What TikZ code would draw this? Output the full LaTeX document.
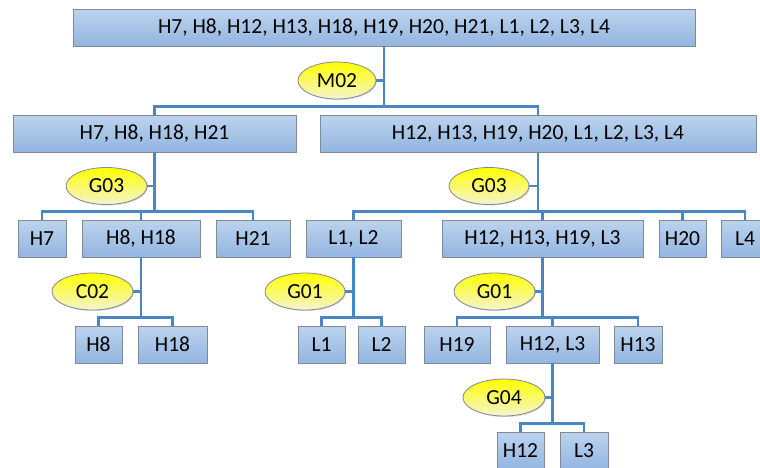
\documentclass[tikz,border=0pt]{standalone}
\usepackage{fontspec}
\setmainfont{Carlito}
\usetikzlibrary{shapes.geometric,shadows}
\definecolor{boxtop}{HTML}{BCD3EE}
\definecolor{boxbot}{HTML}{93B5E0}
\definecolor{boxline}{HTML}{7F8A96}
\definecolor{conncol}{HTML}{4A86C3}
\definecolor{elltop}{HTML}{FFFF00}
\definecolor{ellbot}{HTML}{F4F4D0}
\tikzset{
  box/.style={rectangle, draw=boxline, line width=0.9pt, top color=boxtop, bottom color=boxbot,
    inner sep=0pt, minimum height=37pt, font=\fontsize{21.5}{25}\selectfont,
    drop shadow={shadow xshift=1.2pt, shadow yshift=-1.2pt, opacity=0.35, fill=black!50}},
  lab/.style={ellipse, draw=boxline, line width=0.8pt, top color=elltop, bottom color=ellbot,
    inner sep=0pt, minimum height=37pt, font=\fontsize{21.5}{25}\selectfont,
    drop shadow={shadow xshift=1pt, shadow yshift=-1pt, opacity=0.3, fill=black!50}},
  conn/.style={draw=conncol, line width=2.3pt}
}
\begin{document}
\begin{tikzpicture}[x=1pt,y=-1pt]
\clip (0,0) rectangle (760,467);
\useasboundingbox (0,0) rectangle (760,467);
% level 1
\node[box, minimum width=622pt] (top) at (384,27.5) {H7, H8, H12, H13, H18, H19, H20, H21, L1, L2, L3, L4};
% level 2
\node[box, minimum width=283pt] (A) at (154.5,133.5) {H7, H8, H18, H21};
\node[box, minimum width=436pt] (B) at (538,133.5) {H12, H13, H19, H20, L1, L2, L3, L4};
% level 3
\node[box, minimum width=48pt] (h7) at (42,238.5) {H7};
\node[box, minimum width=118pt] (h8h18) at (141,238.5) {H8, H18};
\node[box, minimum width=74pt] (h21) at (253,238.5) {H21};
\node[box, minimum width=95pt] (l1l2) at (353.5,238.5) {L1, L2};
\node[box, minimum width=201pt] (big) at (542.5,238.5) {H12, H13, H19, L3};
\node[box, minimum width=47pt] (h20) at (682.5,238.5) {H20};
\node[box, minimum width=47pt] (l4) at (745,238.5) {L4};
% level 4
\node[box, minimum width=47pt] (h8) at (98.5,344.5) {H8};
\node[box, minimum width=69pt] (h18) at (172.5,344.5) {H18};
\node[box, minimum width=47pt] (l1) at (321.5,344.5) {L1};
\node[box, minimum width=47pt] (l2) at (381.5,344.5) {L2};
\node[box, minimum width=66pt] (h19) at (457,344.5) {H19};
\node[box, minimum width=93pt] (h12l3) at (552.5,344.5) {H12, L3};
\node[box, minimum width=48pt] (h13) at (638,344.5) {H13};
% level 5
\node[box, minimum width=47pt] (h12) at (520.5,450.5) {H12};
\node[box, minimum width=48pt] (l3) at (584,450.5) {L3};
% labels
\node[lab, minimum width=78pt] (m02) at (337,80.5) {M02};
\node[lab, minimum width=81pt] (g03a) at (106.5,186) {G03};
\node[lab, minimum width=80pt] (g03b) at (489,186) {G03};
\node[lab, minimum width=81pt] (c02) at (92.5,291.5) {C02};
\node[lab, minimum width=80pt] (g01a) at (305,291.5) {G01};
\node[lab, minimum width=81pt] (g01b) at (494.5,291.5) {G01};
\node[lab, minimum width=82pt] (g04) at (504,397.5) {G04};
% connectors
\foreach \p/\cs/\g in {top/{A,B}/m02, A/{h7,h8h18,h21}/g03a, B/{l1l2,big,h20,l4}/g03b,
    h8h18/{h8,h18}/c02, l1l2/{l1,l2}/g01a, big/{h19,h12l3,h13}/g01b, h12l3/{h12,l3}/g04}{
  \foreach \c in \cs {
    \draw[conn] (\p.south) |- ([yshift=8pt]\c.north) -- (\c.north);
  }
  \draw[conn] (\g.east) -- (\g.east -| \p.south);
}
\end{tikzpicture}
\end{document}
